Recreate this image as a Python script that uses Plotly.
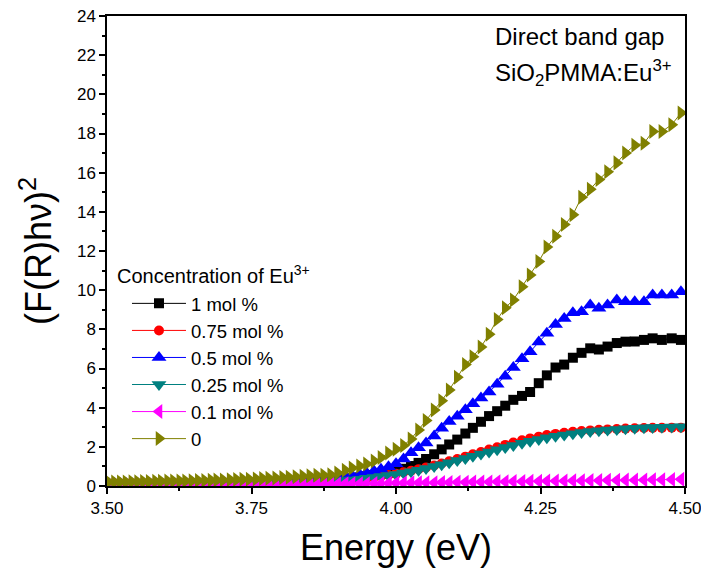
import plotly.graph_objects as go

energy = [3.503, 3.513, 3.523, 3.533, 3.543, 3.553, 3.563, 3.573, 3.584, 3.594,
          3.605, 3.615, 3.626, 3.636, 3.647, 3.658, 3.669, 3.680, 3.690, 3.701,
          3.713, 3.724, 3.735, 3.746, 3.758, 3.769, 3.780, 3.792, 3.804, 3.815,
          3.827, 3.839, 3.851, 3.863, 3.875, 3.887, 3.899, 3.912, 3.924, 3.937,
          3.949, 3.962, 3.974, 3.987, 4.000, 4.013, 4.026, 4.039, 4.052, 4.066,
          4.079, 4.092, 4.106, 4.120, 4.133, 4.147, 4.161, 4.175, 4.189, 4.203,
          4.218, 4.232, 4.247, 4.261, 4.276, 4.291, 4.306, 4.321, 4.336, 4.351,
          4.366, 4.382, 4.397, 4.413, 4.429, 4.444, 4.460, 4.477, 4.493]

y_1mol = [0.08, 0.08, 0.08, 0.08, 0.08, 0.09, 0.09, 0.09, 0.09, 0.09,
          0.09, 0.10, 0.10, 0.10, 0.10, 0.10, 0.10, 0.11, 0.11, 0.11,
          0.11, 0.11, 0.11, 0.12, 0.12, 0.12, 0.12, 0.13, 0.13, 0.13,
          0.14, 0.16, 0.18, 0.20, 0.23, 0.26, 0.30, 0.34, 0.39, 0.44,
          0.50, 0.56, 0.62, 0.69, 0.77, 0.88, 1.02, 1.18, 1.38, 1.62,
          1.87, 2.12, 2.37, 2.68, 2.97, 3.28, 3.57, 3.82, 4.10, 4.40,
          4.60, 4.80, 5.25, 5.65, 6.05, 6.20, 6.55, 6.80, 7.03, 6.97,
          7.12, 7.30, 7.37, 7.38, 7.46, 7.54, 7.46, 7.54, 7.46]

y_075mol = [0.08, 0.08, 0.08, 0.08, 0.08, 0.08, 0.09, 0.09, 0.09, 0.09,
            0.09, 0.09, 0.10, 0.10, 0.10, 0.10, 0.10, 0.10, 0.11, 0.11,
            0.11, 0.11, 0.11, 0.11, 0.12, 0.12, 0.12, 0.12, 0.12, 0.13,
            0.14, 0.15, 0.17, 0.19, 0.21, 0.23, 0.26, 0.29, 0.32, 0.36,
            0.40, 0.45, 0.50, 0.56, 0.62, 0.70, 0.78, 0.86, 0.95, 1.05,
            1.15, 1.26, 1.38, 1.50, 1.62, 1.74, 1.86, 1.98, 2.10, 2.22,
            2.33, 2.43, 2.52, 2.60, 2.66, 2.72, 2.77, 2.81, 2.84, 2.87,
            2.89, 2.91, 2.93, 2.95, 2.96, 2.97, 2.97, 2.98, 2.98]

y_05mol = [0.12, 0.12, 0.12, 0.12, 0.12, 0.13, 0.13, 0.13, 0.13, 0.13,
           0.13, 0.14, 0.14, 0.14, 0.14, 0.14, 0.15, 0.15, 0.15, 0.15,
           0.15, 0.16, 0.16, 0.16, 0.16, 0.17, 0.18, 0.19, 0.21, 0.22,
           0.24, 0.26, 0.28, 0.31, 0.34, 0.38, 0.42, 0.47, 0.53, 0.60,
           0.68, 0.76, 0.85, 0.98, 1.14, 1.38, 1.70, 1.95, 2.20, 2.55,
           2.95, 3.30, 3.56, 3.90, 4.20, 4.50, 4.80, 5.20, 5.60, 6.05,
           6.50, 6.85, 7.35, 7.80, 8.25, 8.55, 8.85, 8.90, 9.24, 9.08,
           9.24, 9.50, 9.41, 9.41, 9.41, 9.75, 9.75, 9.75, 9.92]

y_025mol = [0.08, 0.08, 0.08, 0.08, 0.08, 0.08, 0.08, 0.09, 0.09, 0.09,
            0.09, 0.09, 0.09, 0.09, 0.10, 0.10, 0.10, 0.10, 0.10, 0.10,
            0.10, 0.10, 0.11, 0.11, 0.11, 0.11, 0.11, 0.11, 0.11, 0.12,
            0.13, 0.14, 0.16, 0.18, 0.20, 0.22, 0.25, 0.28, 0.31, 0.35,
            0.39, 0.43, 0.48, 0.53, 0.59, 0.66, 0.73, 0.81, 0.90, 0.99,
            1.09, 1.19, 1.30, 1.41, 1.52, 1.63, 1.74, 1.85, 1.96, 2.07,
            2.18, 2.28, 2.37, 2.46, 2.54, 2.61, 2.67, 2.73, 2.78, 2.82,
            2.86, 2.89, 2.92, 2.95, 2.97, 2.99, 3.00, 3.01, 3.02]

y_01mol = [0.02, 0.02, 0.02, 0.02, 0.02, 0.02, 0.02, 0.03, 0.03, 0.03,
           0.03, 0.03, 0.03, 0.03, 0.03, 0.03, 0.04, 0.04, 0.04, 0.04,
           0.04, 0.04, 0.05, 0.05, 0.05, 0.05, 0.06, 0.06, 0.06, 0.07,
           0.07, 0.08, 0.08, 0.09, 0.09, 0.10, 0.10, 0.11, 0.11, 0.12,
           0.12, 0.13, 0.13, 0.14, 0.15, 0.15, 0.16, 0.16, 0.17, 0.17,
           0.18, 0.18, 0.19, 0.19, 0.20, 0.21, 0.21, 0.22, 0.22, 0.23,
           0.23, 0.24, 0.24, 0.25, 0.26, 0.26, 0.27, 0.27, 0.28, 0.28,
           0.29, 0.29, 0.30, 0.30, 0.31, 0.32, 0.32, 0.33, 0.34]

y_0mol = [0.20, 0.20, 0.21, 0.21, 0.22, 0.22, 0.23, 0.23, 0.24, 0.24,
          0.25, 0.25, 0.26, 0.26, 0.27, 0.28, 0.28, 0.29, 0.30, 0.31,
          0.32, 0.33, 0.34, 0.35, 0.36, 0.38, 0.39, 0.41, 0.43, 0.45,
          0.47, 0.50, 0.52, 0.55, 0.55, 0.58, 0.66, 0.80, 0.92, 1.02,
          1.12, 1.28, 1.45, 1.68, 1.88, 2.07, 2.40, 2.86, 3.35, 3.88,
          4.35, 4.90, 5.55, 6.20, 6.60, 7.10, 7.75, 8.50, 9.10, 9.50,
          10.18, 10.78, 11.46, 12.20, 12.75, 13.35, 13.85, 14.75, 15.15, 15.65,
          16.05, 16.50, 17.00, 17.40, 17.50, 18.10, 18.10, 18.45, 19.05]

series_names = ["1 mol %", "0.75 mol %", "0.5 mol %", "0.25 mol %", "0.1 mol %", "0"]
series_values = [y_1mol, y_075mol, y_05mol, y_025mol, y_01mol, y_0mol]
colors = ["#000000", "#FF0000", "#0000FF", "#008080", "#FF00FF", "#808000"]
symbols = ["square", "circle", "triangle-up", "triangle-down", "triangle-left", "triangle-right"]
sizes = [10, 10, 13, 13, 13, 13]

x_ticks = [3.50, 3.75, 4.00, 4.25, 4.50]
y_ticks = [0, 2, 4, 6, 8, 10, 12, 14, 16, 18, 20, 22, 24]

FONT = "Liberation Sans, Arial, sans-serif"

fig = go.Figure()
for name, vals, c, s, sz in zip(series_names, series_values, colors, symbols, sizes):
    fig.add_trace(go.Scatter(
        x=energy, y=vals, name=name, mode="lines+markers",
        line=dict(color=c, width=1),
        marker=dict(color=c, symbol=s, size=sz, line=dict(width=0)),
        cliponaxis=True,
    ))

axis_common = dict(
    showline=True, linecolor="black", linewidth=1.5, mirror=True,
    ticks="outside", ticklen=6, tickwidth=1.5, tickcolor="black",
    showgrid=False, zeroline=False, automargin=False,
    tickfont=dict(family=FONT, size=17, color="black"),
    ticklabeloverflow="allow",
)

fig.update_layout(
    width=701, height=573,
    margin=dict(l=107, r=16, t=16, b=87),
    paper_bgcolor="white", plot_bgcolor="white",
    font=dict(family=FONT, color="black"),
    xaxis=dict(
        range=[3.5, 4.5], tickvals=x_ticks, ticktext=[f"{v:.2f}" for v in x_ticks],
        minor=dict(ticks="outside", ticklen=3, tickwidth=1.5, tickcolor="black", dtick=0.125, tick0=3.5),
        title=dict(text="Energy (eV)", font=dict(family=FONT, size=36, color="black"), standoff=18),
        **axis_common,
    ),
    yaxis=dict(
        range=[0, 24], tickvals=y_ticks,
        minor=dict(ticks="outside", ticklen=3, tickwidth=1.5, tickcolor="black", dtick=1, tick0=0),
        title=dict(text="(F(R)hν)<sup>2</sup>", font=dict(family=FONT, size=36, color="black"), standoff=14),
        **axis_common,
    ),
    legend=dict(
        x=0.0346, y=0.428, xanchor="left", yanchor="top",
        bgcolor="rgba(0,0,0,0)", borderwidth=0,
        font=dict(family=FONT, size=18.5, color="black"),
        itemwidth=54, tracegroupgap=0,
    ),
    annotations=[
        dict(text="Concentration of Eu<sup>3+</sup>", x=0.0138, y=0.45, xref="paper", yref="paper",
             xanchor="left", yanchor="middle", showarrow=False,
             font=dict(family=FONT, size=20, color="black")),
        dict(text="Direct band gap", x=0.668, y=0.956, xref="paper", yref="paper",
             xanchor="left", yanchor="middle", showarrow=False,
             font=dict(family=FONT, size=24, color="black")),
        dict(text="SiO<sub>2</sub>PMMA:Eu<sup>3+</sup>", x=0.668, y=0.879, xref="paper", yref="paper",
             xanchor="left", yanchor="middle", showarrow=False,
             font=dict(family=FONT, size=24, color="black")),
    ],
)

fig.write_html("out.html")
